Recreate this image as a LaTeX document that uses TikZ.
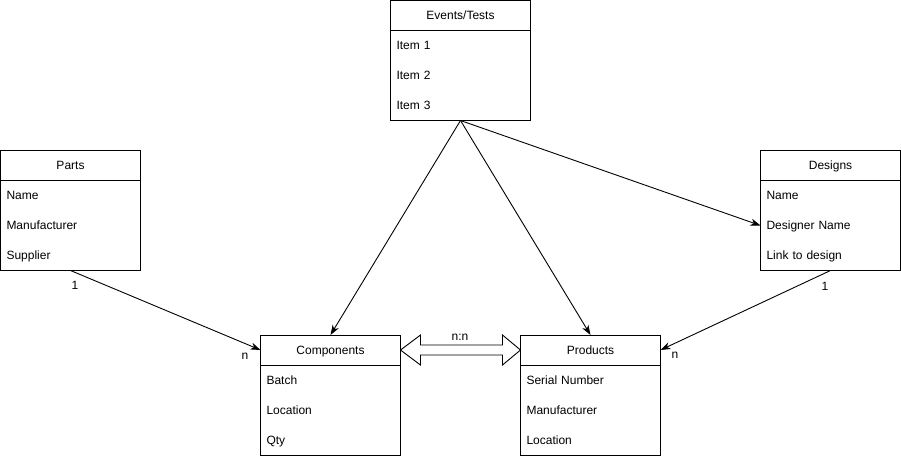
\documentclass[tikz,border=0pt]{standalone}
\usepackage{fontspec}
\setmainfont{Liberation Sans}
\usetikzlibrary{arrows.meta,calc}
\begin{document}
\begin{tikzpicture}[x=1pt,y=-1pt,line width=0.9pt,
  outerbox/.style={draw, minimum width=140pt, minimum height=120pt, inner sep=0pt, outer sep=0pt},
  hdr/.style={draw, minimum width=140pt, minimum height=30pt, inner sep=0pt, outer sep=0pt, text height=10pt, text depth=2pt, anchor=north, font=\fontsize{12}{14}\selectfont},
  rowitem/.style={minimum height=30pt, inner xsep=6pt, inner ysep=0pt, outer sep=0pt, text height=10pt, text depth=2pt, text width=128pt, align=left, anchor=north, font=\fontsize{12}{14}\selectfont},
  lbl/.style={inner sep=0pt, font=\fontsize{12}{14}\selectfont},
  conn/.style={-{Stealth[length=10pt,width=7pt,inset=3pt]}},
  blockarrow/.style={draw, fill=white, line join=miter}
]
\useasboundingbox (0,0) rectangle (901,456);

% Events/Tests
\node[outerbox] (ev) at (460.5,60.5) {};
\node[hdr] (ev-h) at (ev.north) {Events/Tests};
\node[rowitem] (ev-1) at (ev-h.south) {Item 1};
\node[rowitem] (ev-2) at (ev-1.south) {Item 2};
\node[rowitem] (ev-3) at (ev-2.south) {Item 3};

% Parts
\node[outerbox] (pa) at (70.5,210.5) {};
\node[hdr] (pa-h) at (pa.north) {Parts};
\node[rowitem] (pa-1) at (pa-h.south) {Name};
\node[rowitem] (pa-2) at (pa-1.south) {Manufacturer};
\node[rowitem] (pa-3) at (pa-2.south) {Supplier};

% Designs
\node[outerbox] (de) at (830.5,210.5) {};
\node[hdr] (de-h) at (de.north) {Designs};
\node[rowitem] (de-1) at (de-h.south) {Name};
\node[rowitem] (de-2) at (de-1.south) {Designer Name};
\node[rowitem] (de-3) at (de-2.south) {Link to design};

% Components
\node[outerbox] (co) at (330.5,395) {};
\node[hdr] (co-h) at (co.north) {Components};
\node[rowitem] (co-1) at (co-h.south) {Batch};
\node[rowitem] (co-2) at (co-1.south) {Location};
\node[rowitem] (co-3) at (co-2.south) {Qty};

% Products
\node[outerbox] (pr) at (590.5,395) {};
\node[hdr] (pr-h) at (pr.north) {Products};
\node[rowitem] (pr-1) at (pr-h.south) {Serial Number};
\node[rowitem] (pr-2) at (pr-1.south) {Manufacturer};
\node[rowitem] (pr-3) at (pr-2.south) {Location};

% connectors
\draw[conn] (ev.south) -- (co.north);
\draw[conn] (ev.south) -- (pr.north);
\draw[conn] (ev.south) -- (de-2.west);
\draw[conn] (pa.south) -- (co-h.west);
\draw[conn] (de.south) -- (pr-h.east);

% block double arrow n:n
\draw[blockarrow] (co-h.east) -- ++(20,-15) -- ++(0,10) -- ($(pr-h.west)+(-18,-5)$) -- ++(0,-10)
  -- (pr-h.west) -- ++(-18,15) -- ++(0,-10) -- ($(co-h.east)+(20,5)$) -- ++(0,10) -- cycle;

% labels
\node[lbl] (l-nn) at (460,337) {n:n};
\node[lbl] (l-pa1) at (75,285) {1};
\node[lbl] (l-con) at (245,356) {n};
\node[lbl] (l-de1) at (825,286) {1};
\node[lbl] (l-prn) at (675,355) {n};
\end{tikzpicture}
\end{document}
